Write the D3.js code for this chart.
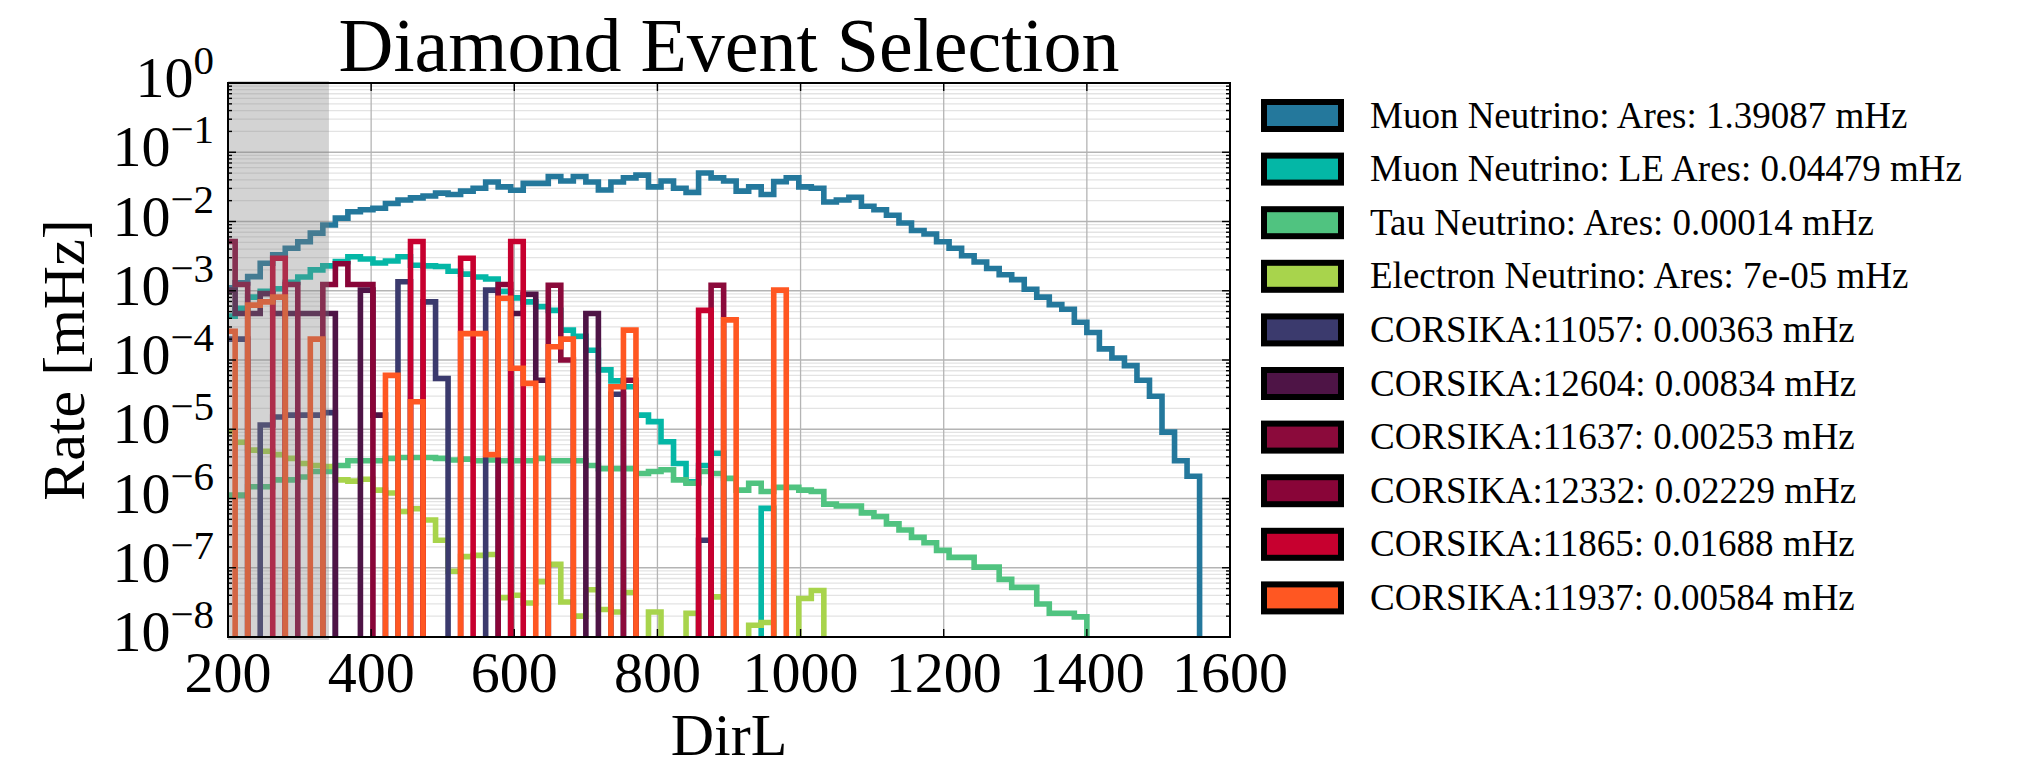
<!DOCTYPE html>
<html><head><meta charset="utf-8">
<script src="https://cdn.jsdelivr.net/npm/d3@7"></script>
<style>body{margin:0;background:#fff}svg{display:block}</style>
</head><body>
<svg id="chart" width="2034" height="767"></svg>
<script>
// ---------------- data ----------------
const binStart = 192.5;   // first histogram bin edge (DirL)
const binWidth = 17.5;    // histogram bin width (DirL)

const seriesLabels = [
  "Muon Neutrino: Ares: 1.39087 mHz",
  "Muon Neutrino: LE Ares: 0.04479 mHz",
  "Tau Neutrino: Ares: 0.00014 mHz",
  "Electron Neutrino: Ares: 7e-05 mHz",
  "CORSIKA:11057: 0.00363 mHz",
  "CORSIKA:12604: 0.00834 mHz",
  "CORSIKA:11637: 0.00253 mHz",
  "CORSIKA:12332: 0.02229 mHz",
  "CORSIKA:11865: 0.01688 mHz",
  "CORSIKA:11937: 0.00584 mHz"
];
const seriesColors = ["#24789c","#04b7a6","#50c380","#a8d44c","#3b3a6d","#4e1446","#8b0a3b","#890538","#c7002f","#ff5722"];

const muonAres = [
  1.1e-3,1.3e-3,1.6e-3,2.5e-3,3.3e-3,4.1e-3,5.1e-3,6.8e-3,8.9e-3,1.12e-2,
  1.38e-2,1.48e-2,1.55e-2,1.82e-2,2.04e-2,2.19e-2,2.34e-2,2.57e-2,2.45e-2,2.75e-2,
  3.02e-2,3.72e-2,3.16e-2,2.82e-2,3.55e-2,3.55e-2,4.47e-2,3.85e-2,4.47e-2,3.72e-2,
  2.85e-2,3.72e-2,4.27e-2,4.68e-2,3.16e-2,3.85e-2,3.02e-2,2.63e-2,5.01e-2,4.27e-2,
  3.85e-2,2.75e-2,3.16e-2,2.45e-2,3.76e-2,4.27e-2,3.16e-2,3.02e-2,1.91e-2,2.04e-2,
  2.24e-2,1.66e-2,1.48e-2,1.23e-2,9.5e-3,7.4e-3,6.6e-3,5.1e-3,4.1e-3,3.2e-3,
  2.6e-3,2.1e-3,1.7e-3,1.45e-3,1.05e-3,8.1e-4,6.3e-4,5.4e-4,3.5e-4,2.5e-4,
  1.45e-4,1.07e-4,8.3e-5,5.1e-5,3.0e-5,9.1e-6,3.5e-6,2.1e-6,0,0,0
];
const muonLEAres = [
  4.3e-4,5.6e-4,8.1e-4,9.8e-4,1.07e-3,1.32e-3,1.58e-3,2.0e-3,2.29e-3,2.63e-3,
  3.09e-3,2.88e-3,2.51e-3,2.69e-3,3.09e-3,2.34e-3,2.29e-3,2.24e-3,1.91e-3,1.74e-3,
  1.58e-3,1.48e-3,9.8e-4,7.9e-4,6.9e-4,5.9e-4,5.2e-4,2.7e-4,2.2e-4,1.38e-4,
  7.2e-5,5.0e-5,4.1e-5,1.6e-5,1.29e-5,6.6e-6,3.2e-6,1.74e-6,3.0e-6,4.5e-6,
  0,0,0,7.2e-7,0
];
const tauAres = [
  1.12e-6,1.12e-6,1.48e-6,1.48e-6,1.86e-6,1.86e-6,2.04e-6,2.45e-6,2.45e-6,3.0e-6,
  3.5e-6,3.5e-6,3.5e-6,3.8e-6,3.9e-6,3.9e-6,3.9e-6,3.8e-6,3.6e-6,3.7e-6,
  3.5e-6,3.6e-6,3.5e-6,3.5e-6,3.5e-6,3.8e-6,3.5e-6,3.5e-6,3.5e-6,3.0e-6,
  2.7e-6,2.7e-6,2.7e-6,2.3e-6,2.45e-6,2.6e-6,1.86e-6,1.66e-6,2.45e-6,2.3e-6,
  1.95e-6,1.32e-6,1.66e-6,1.26e-6,1.45e-6,1.45e-6,1.32e-6,1.26e-6,8.3e-7,7.8e-7,
  7.8e-7,6.2e-7,5.5e-7,4.3e-7,3.5e-7,2.75e-7,2.3e-7,1.78e-7,1.41e-7,1.41e-7,
  1.02e-7,1.02e-7,6.8e-8,5.2e-8,5.2e-8,3.0e-8,2.2e-8,2.2e-8,1.95e-8,0
];
const electronAres = [
  9.3e-6,6.5e-6,5.0e-6,4.8e-6,4.3e-6,3.8e-6,3.2e-6,3.0e-6,2.9e-6,1.86e-6,
  1.78e-6,1.9e-6,1.32e-6,1.2e-6,6.5e-7,7.1e-7,4.9e-7,2.5e-7,8.9e-8,1.45e-7,
  1.51e-7,1.55e-7,3.7e-8,4.0e-8,3.1e-8,6.3e-8,1.12e-7,3.2e-8,2.0e-8,4.8e-8,
  2.5e-8,2.3e-8,4.4e-8,0,2.3e-8,0,0,2.2e-8,0,3.8e-8,
  0,0,1.48e-8,1.62e-8,0,0,3.6e-8,4.7e-8,0
];
const corsika11057 = [
  2.0e-4,2.0e-4,0,1.15e-5,1.5e-5,1.6e-5,1.6e-5,1.6e-5,1.74e-5,0,
  0,0,0,0,1.35e-3,0,6.9e-4,5.4e-5,0,0,
  0,1.02e-3,0,0,0,0,0,0,0,0,
  0,3.2e-5,0,0,0,0,0,0,2.5e-7,0
];
const corsika12604 = [
  1.02e-3,4.7e-4,4.7e-4,9.1e-4,4.7e-4,4.7e-4,4.7e-4,4.7e-4,4.7e-4,0,
  0,1.02e-3,1.6e-5,0,0,0,0,0,0,0,
  0,0,0,4.7e-4,8.9e-4,5.1e-5,0,0,0,4.7e-4,
  0
];
const corsika11637 = [
  0,0,0,0,0,0,0,0,0,0,
  0,0,0,0,0,0,0,0,0,0,
  0,0,0,0,0,0,1.2e-3,1.0e-4,0,0,
  0,0,5.1e-5,0,0,0,0,0,0,1.2e-3,
  0
];
const corsika12332 = [
  5.13e-3,1.23e-3,0,0,0,1.23e-3,0,0,1.23e-3,2.45e-3,
  1.23e-3,1.23e-3,0,0,0,0,0,0,0,0,
  0,0,1.23e-3,0
];
const corsika11865 = [
  0,0,0,0,2.95e-3,0,0,0,0,0,
  0,0,0,0,0,5.13e-3,0,0,0,2.95e-3,
  0,0,0,5.13e-3,0,0,0,0,0,0,
  0,0,0,0,0,0,0,0,5.2e-4,0
];
const corsika11937 = [
  2.6e-4,0,6.2e-4,6.9e-4,8.1e-4,0,0,2.0e-4,0,0,
  0,0,0,6.0e-5,0,2.5e-5,0,0,0,2.4e-4,
  2.4e-4,4.3e-6,7.8e-4,7.6e-5,4.6e-5,0,1.55e-4,2.0e-4,0,0,
  0,4.1e-5,2.7e-4,0,0,0,0,0,0,0,
  3.8e-4,0,0,0,1.02e-3,0
];
const seriesValues = [muonAres, muonLEAres, tauAres, electronAres,
  corsika11057, corsika12604, corsika11637, corsika12332, corsika11865, corsika11937];

const xTickValues = [200, 400, 600, 800, 1000, 1200, 1400, 1600];
const yTickExponents = [0, -1, -2, -3, -4, -5, -6, -7, -8];
const shadedCut = [200, 341];
const titleText = "Diamond Event Selection";
const xLabelText = "DirL";
const yLabelText = "Rate [mHz]";

// ---------------- drawing ----------------
const FONT = "'Liberation Serif','DejaVu Serif',serif";
const L = 228, R = 1230, T = 83, B = 637;
const svg = d3.select("#chart");
svg.append("rect").attr("width", 2034).attr("height", 767).attr("fill", "#fff");

const x = d3.scaleLinear().domain([200, 1600]).range([L, R]);
const y = d3.scaleLog().domain([1e-8, 1]).range([B, T]);

svg.append("defs").append("clipPath").attr("id", "plotclip")
  .append("rect").attr("x", L).attr("y", T).attr("width", R - L).attr("height", B - T);

// grid
const grid = svg.append("g");
const minorVals = [];
yTickExponents.forEach(e => { for (let k = 2; k <= 9; k++) { const v = k * Math.pow(10, e - 1); if (v >= 1e-8 && v <= 1) minorVals.push(v); } });
grid.selectAll("line.minor").data(minorVals).enter().append("line")
  .attr("x1", L).attr("x2", R).attr("y1", d => y(d)).attr("y2", d => y(d))
  .attr("stroke", "#e3e3e3").attr("stroke-width", 1.3);
grid.selectAll("line.majy").data(yTickExponents.map(e => Math.pow(10, e))).enter().append("line")
  .attr("x1", L).attr("x2", R).attr("y1", d => y(d)).attr("y2", d => y(d))
  .attr("stroke", "#b4b4b4").attr("stroke-width", 1.3);
grid.selectAll("line.majx").data(xTickValues).enter().append("line")
  .attr("x1", d => x(d)).attr("x2", d => x(d)).attr("y1", T).attr("y2", B)
  .attr("stroke", "#b4b4b4").attr("stroke-width", 1.3);

// histograms (step outlines)
const plot = svg.append("g").attr("clip-path", "url(#plotclip)");
const line = d3.line().x(d => d[0]).y(d => d[1]);
const yOf = v => (v > 0 ? y(v) : B + 60);
seriesValues.forEach((vals, i) => {
  const pts = [];
  pts.push([x(binStart), B + 60]);
  vals.forEach((v, j) => {
    const a = binStart + j * binWidth, b = a + binWidth;
    pts.push([x(a), yOf(v)]);
    pts.push([x(b), yOf(v)]);
  });
  pts.push([x(binStart + vals.length * binWidth), B + 60]);
  plot.append("path").attr("d", line(pts)).attr("fill", "none")
    .attr("stroke", seriesColors[i]).attr("stroke-width", 5.6)
    .attr("stroke-linejoin", "miter").attr("stroke-miterlimit", 4);
});

// shaded cut region (drawn on top, semi-transparent)
svg.append("rect").attr("x", x(shadedCut[0])).attr("y", T - 2)
  .attr("width", x(shadedCut[1]) - x(shadedCut[0])).attr("height", B - T + 5)
  .attr("fill", "#808080").attr("fill-opacity", 0.35);

// ticks
const ticks = svg.append("g").attr("stroke", "#000").attr("stroke-width", 1.4);
xTickValues.forEach(v => {
  ticks.append("line").attr("x1", x(v)).attr("x2", x(v)).attr("y1", B).attr("y2", B - 8);
  ticks.append("line").attr("x1", x(v)).attr("x2", x(v)).attr("y1", T).attr("y2", T + 8);
});
yTickExponents.forEach(e => {
  const yy = y(Math.pow(10, e));
  ticks.append("line").attr("x1", L).attr("x2", L + 8).attr("y1", yy).attr("y2", yy);
  ticks.append("line").attr("x1", R).attr("x2", R - 8).attr("y1", yy).attr("y2", yy);
});
minorVals.forEach(v => {
  const yy = y(v);
  ticks.append("line").attr("x1", L).attr("x2", L + 4).attr("y1", yy).attr("y2", yy);
  ticks.append("line").attr("x1", R).attr("x2", R - 4).attr("y1", yy).attr("y2", yy);
});

// frame
svg.append("rect").attr("x", L).attr("y", T).attr("width", R - L).attr("height", B - T)
  .attr("fill", "none").attr("stroke", "#000").attr("stroke-width", 2);

// tick labels
svg.selectAll("text.xt").data(xTickValues).enter().append("text")
  .attr("x", d => x(d)).attr("y", 692).attr("text-anchor", "middle")
  .attr("font-family", FONT).attr("font-size", 58).attr("fill", "#000").text(d => d);
yTickExponents.forEach(e => {
  const t = svg.append("text").attr("x", 214).attr("y", y(Math.pow(10, e)) + 14)
    .attr("text-anchor", "end").attr("font-family", FONT).attr("font-size", 58).attr("fill", "#000");
  t.append("tspan").text("10");
  t.append("tspan").attr("dy", -23).attr("font-size", 41).text(e === 0 ? "0" : "\u2212" + Math.abs(e));
});

// axis labels and title
svg.append("text").attr("x", (L + R) / 2).attr("y", 71).attr("text-anchor", "middle")
  .attr("font-family", FONT).attr("font-size", 76).attr("fill", "#000").text(titleText);
svg.append("text").attr("x", (L + R) / 2).attr("y", 755).attr("text-anchor", "middle")
  .attr("font-family", FONT).attr("font-size", 60).attr("fill", "#000").text(xLabelText);
svg.append("text").attr("transform", `translate(84,${(T + B) / 2}) rotate(-90)`)
  .attr("text-anchor", "middle").attr("font-family", FONT).attr("font-size", 60)
  .attr("fill", "#000").text(yLabelText);

// legend
const leg = svg.append("g");
seriesLabels.forEach((lab, i) => {
  const cy = 115.5 + i * 53.6;
  leg.append("rect").attr("x", 1264).attr("y", cy - 13.5).attr("width", 77).attr("height", 27)
    .attr("fill", seriesColors[i]).attr("stroke", "#000").attr("stroke-width", 6);
  leg.append("text").attr("x", 1370).attr("y", cy + 12).attr("font-family", FONT)
    .attr("font-size", 37).attr("fill", "#000").text(lab);
});
</script>
</body></html>
